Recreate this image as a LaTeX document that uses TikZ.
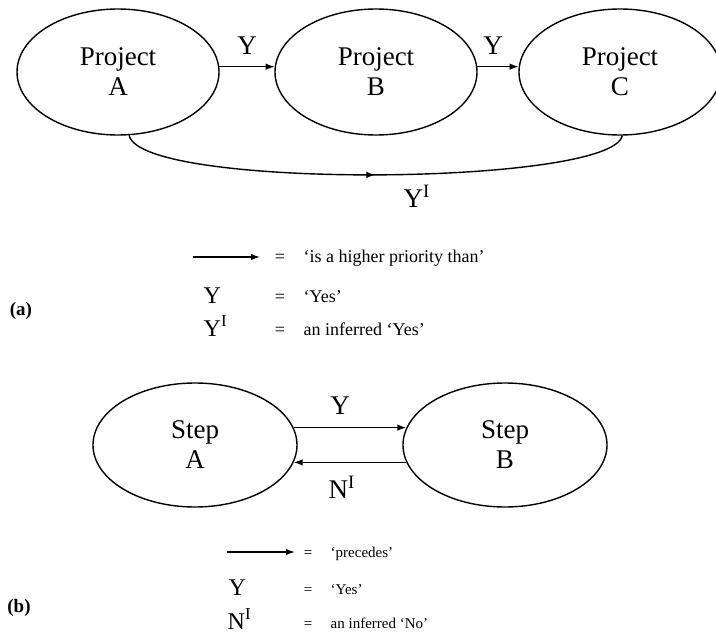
\documentclass[tikz,border=0pt]{standalone}
\usepackage{fontspec}
\setmainfont{Liberation Serif}
\usepackage{tikz}
\usetikzlibrary{positioning,shapes.geometric,arrows.meta,decorations.markings}
\tikzstyle{pixelGrid} = [x = 1pt, y = -1pt, line width = 1.4pt]
\tikzstyle{bubbleStyle} = [draw, ellipse, inner sep = 0pt, align = center, font = \fontsize{27}{30}\selectfont]
\tikzstyle{projectBubble} = [bubbleStyle, minimum width = 202pt, minimum height = 126pt]
\tikzstyle{stepBubble} = [bubbleStyle, minimum width = 204pt, minimum height = 124pt]
\tikzstyle{linkStyle} = [-{Latex[length = 9pt, width = 6.5pt]}]
\tikzstyle{inferredLink} = [postaction = {decorate}, decoration = {markings, mark = at position 0.5 with {\arrow{Latex[length = 9pt, width = 6.5pt]}}}]
\tikzstyle{linkText} = [anchor = base, inner sep = 0pt, font = \fontsize{27}{30}\selectfont]
\tikzstyle{keySymbol} = [anchor = base west, inner sep = 0pt, font = \fontsize{24}{26}\selectfont]
\tikzstyle{keyTextA} = [anchor = base west, inner sep = 0pt, font = \fontsize{18}{20}\selectfont]
\tikzstyle{keyTextB} = [anchor = base west, inner sep = 0pt, font = \fontsize{15}{17}\selectfont]
\tikzstyle{panelTag} = [inner sep = 0pt, font = \fontsize{19}{21}\selectfont\bfseries]
\newcommand{\inferred}[1]{#1\textsuperscript{I}}
\newcommand{\keyRow}[6]{
  \node[#2, anchor = base] (#1Eq) at (#4, #3) {=};
  \node[#2] (#1Txt) at (#5, #3) {#6};
}

\begin{document}
\begin{tikzpicture}[pixelGrid]
  \useasboundingbox (0,0) rectangle (716,637);
  % (a) projects
  \node[projectBubble] (projA) at (118,72) {Project\\A};
  \node[projectBubble] (projB) at (376,72) {Project\\B};
  \node[projectBubble] (projC) at (620,72) {Project\\C};
  \draw[linkStyle] (projA.3) -- (projB.177);
  \draw[linkStyle] (projB.3) -- (projC.177);
  \draw[inferredLink] (projA.-80) .. controls (140,190) and (612,186) .. (projC.-88);
  \node[linkText] (labelAB) at (247,54) {Y};
  \node[linkText] (labelBC) at (493,54) {Y};
  \node[linkText, anchor = base west] (labelAC) at (403,207) {\inferred{Y}};
  % key (a)
  \coordinate (keyAFrom) at (193,257);
  \coordinate (keyATo) at (260,257);
  \draw[linkStyle] (keyAFrom) -- (keyATo);
  \keyRow{keyAArrow}{keyTextA}{262}{280}{303}{`is a higher priority than'}
  \node[keySymbol] (keyAYes) at (203,303) {Y};
  \keyRow{keyAYes}{keyTextA}{302}{280}{303}{`Yes'}
  \node[keySymbol] (keyAInf) at (203,336) {\inferred{Y}};
  \keyRow{keyAInf}{keyTextA}{335}{280}{303}{an inferred `Yes'}
  \node[panelTag] (tagA) at (21,311) {(a)};
  % (b) steps
  \node[stepBubble] (stepA) at (195,445) {Step\\A};
  \node[stepBubble] (stepB) at (505,445) {Step\\B};
  \draw[linkStyle] (stepA.10) -- (stepB.170);
  \draw[linkStyle] (stepB.190) -- (stepA.-10);
  \node[linkText] (labelStepY) at (340,414) {Y};
  \node[linkText, anchor = base west] (labelStepN) at (328,498) {\inferred{N}};
  % key (b)
  \coordinate (keyBFrom) at (227,552);
  \coordinate (keyBTo) at (295,552);
  \draw[linkStyle] (keyBFrom) -- (keyBTo);
  \keyRow{keyBArrow}{keyTextB}{557}{308}{330}{`precedes'}
  \node[keySymbol] (keyBYes) at (228,595) {Y};
  \keyRow{keyBYes}{keyTextB}{594}{308}{330}{`Yes'}
  \node[keySymbol] (keyBInf) at (227,629) {\inferred{N}};
  \keyRow{keyBInf}{keyTextB}{628}{308}{330}{an inferred `No'}
  \node[panelTag] (tagB) at (19,608) {(b)};
\end{tikzpicture}
\end{document}
